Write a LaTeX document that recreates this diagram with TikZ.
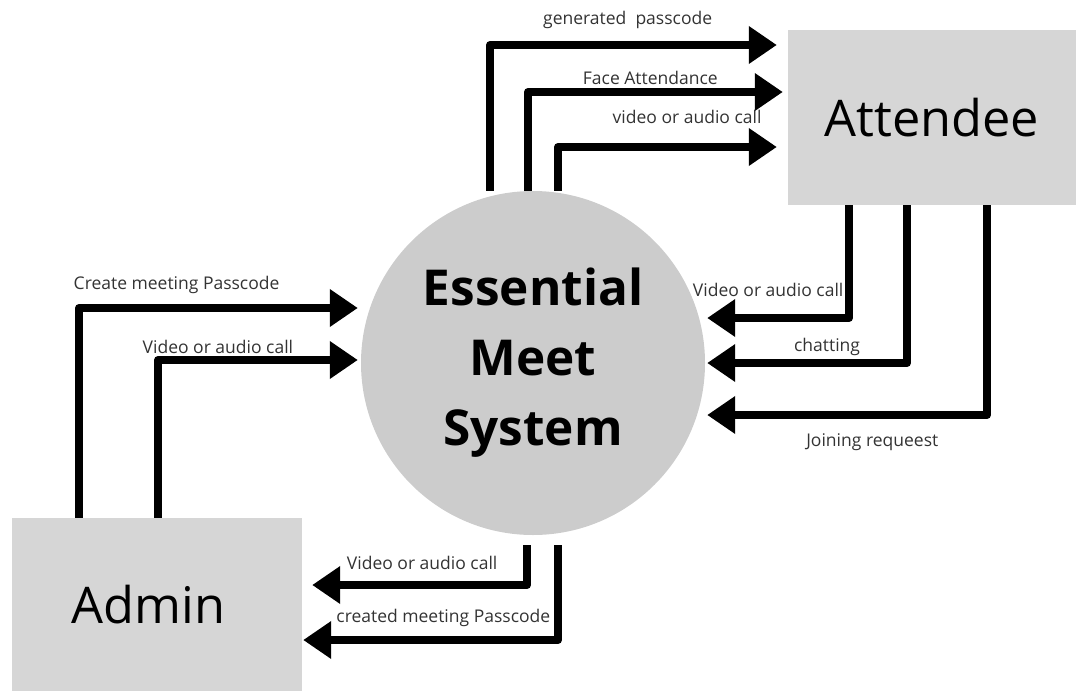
\documentclass[tikz,border=0pt]{standalone}
\usepackage{fontspec}
\setmainfont{Open Sans}
\usetikzlibrary{arrows.meta}

\definecolor{boxgray}{HTML}{D6D6D6}
\definecolor{circgray}{HTML}{CCCCCC}
\definecolor{labelgray}{HTML}{333333}

\begin{document}
\begin{tikzpicture}[x=1pt,y=-1pt]
                \tikzstyle{flow}=[line width=8pt,line join=round,
                -{Triangle[length=28pt,width=36pt]}]
                \tikzstyle{lbl}=[text=labelgray,font=\fontsize{17.5}{20}\selectfont,inner sep=0pt]
                \tikzstyle{entity}=[fill=boxgray,inner sep=0pt,font=\fontsize{50.5}{60}\selectfont]

                \useasboundingbox (0,0) rectangle (1076,691);

                %% Draw the system and the two entities
                \node [circle,fill=circgray,minimum size=344pt,inner sep=0pt,align=center,
                       font=\bfseries\fontsize{49.5}{70}\selectfont] (sys) at (533,363)
                      {Essential\\Meet\\System};
                \node [entity,minimum width=288pt,minimum height=175pt] (att) at (932,117.5) {Attendee};
                \node [entity,minimum width=290pt,minimum height=173pt,
                       text width=270pt,align=left] (adm) at (157,604.5) {\hspace*{50pt}Admin};

                %% System to Attendee
                \draw[flow] ([xshift=-43pt]sys.north) |- node[lbl,pos=.74,yshift=25pt] (l-gen)
                      {generated\ \ passcode} ([xshift=-11pt,yshift=72.5pt]att.west);
                \draw[flow] ([xshift=-5pt]sys.north) |- node[lbl,pos=.74,yshift=14pt] (l-face)
                      {Face Attendance} ([xshift=-5pt,yshift=25.5pt]att.west);
                \draw[flow] ([xshift=25pt]sys.north) |- node[lbl,pos=.795,yshift=30pt] (l-vat)
                      {video or audio call} ([xshift=-11pt,yshift=-29.5pt]att.west);

                %% Attendee to System
                \draw[flow] ([xshift=-83pt]att.south) |- node[lbl,pos=.785,yshift=28pt] (l-vas)
                      {Video or audio call} ([xshift=2pt,yshift=45pt]sys.east);
                \draw[flow] ([xshift=-25pt]att.south) |- node[lbl,pos=.70,yshift=16pt] (l-chat)
                      {chatting} ([xshift=2pt]sys.east);
                \draw[flow] ([xshift=55pt]att.south) |- node[lbl,pos=.705,yshift=-27pt] (l-join)
                      {Joining requeest} ([xshift=2pt,yshift=-52pt]sys.east);

                %% Admin to System
                \draw[flow] ([xshift=-78pt]adm.north) |- node[lbl,pos=.675,yshift=23pt] (l-create)
                      {Create meeting Passcode} ([xshift=-3pt,yshift=55pt]sys.west);
                \draw[flow] ([xshift=1pt]adm.north) |- node[lbl,pos=.65,yshift=13pt] (l-vadm)
                      {Video or audio call} ([xshift=-3pt,yshift=3pt]sys.west);

                %% System to Admin
                \draw[flow] ([xshift=-6pt,yshift=-10pt]sys.south) |- node[lbl,pos=.744,yshift=22pt] (l-vsa)
                      {Video or audio call} ([xshift=10pt,yshift=19.5pt]adm.east);
                \draw[flow] ([xshift=25pt,yshift=-10pt]sys.south) |- node[lbl,pos=.725,yshift=22pt] (l-created)
                      {created meeting Passcode} ([xshift=1pt,yshift=-35.5pt]adm.east);
\end{tikzpicture}
\end{document}
